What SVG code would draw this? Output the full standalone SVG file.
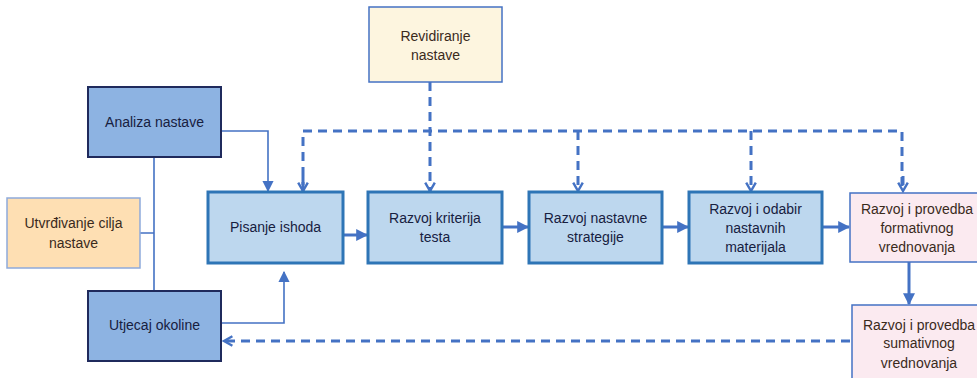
<svg xmlns="http://www.w3.org/2000/svg" width="977" height="378" viewBox="0 0 977 378">
<style>
text{font-family:"Liberation Sans","Open Sans",sans-serif;font-size:14px;text-anchor:middle}
.dark rect{fill:#8db3e2;stroke:#1f2a5c;stroke-width:2}
.dark text{fill:#17203f}
.light rect{fill:#bdd7ee;stroke:#2e75b6;stroke-width:3}
.light text{fill:#17203f}
.tan text{fill:#3a2a1c}
.c{fill:none;stroke:#4472c4}
.thin{stroke-width:1.6}
.thick{stroke-width:3}
.dash{stroke-width:3;stroke-dasharray:9 6}
</style>
<defs>
<marker id="af" viewBox="0 0 10 10" refX="9" refY="5" markerWidth="4" markerHeight="4" orient="auto" markerUnits="strokeWidth"><path d="M0,0 L10,5 L0,10 Z" fill="#4472c4"/></marker>
<marker id="as" viewBox="0 0 10 10" refX="9" refY="5" markerWidth="7" markerHeight="7" orient="auto" markerUnits="strokeWidth"><path d="M0,0 L10,5 L0,10 Z" fill="#4472c4"/></marker>
<marker id="ao" viewBox="0 0 10 10" refX="8" refY="5" markerWidth="4" markerHeight="4" orient="auto" markerUnits="strokeWidth"><path d="M1,1 L8,5 L1,9" fill="none" stroke="#4472c4" stroke-width="2"/></marker>
</defs>
<g id="connectors">
<path class="c thin" d="M154,157 V291 M140,233 H154"/>
<path class="c thin" d="M221,131 H268 V191" marker-end="url(#as)"/>
<path class="c thin" d="M221,323 H284 V272" marker-end="url(#as)"/>
<path class="c dash" d="M880,341 H224" marker-end="url(#ao)"/>
<path class="c dash" d="M303,191 V131 H902 V191"/>
<path class="c dash" d="M903,176 L903,191" marker-end="url(#ao)"/>
<path class="c dash" d="M303,176 L303,191" marker-end="url(#ao)"/>
<path class="c dash" d="M430,82 V191" marker-end="url(#ao)"/>
<path class="c dash" d="M578,131 V191" marker-end="url(#ao)"/>
<path class="c dash" d="M751,131 V191" marker-end="url(#ao)"/>
<path class="c thick" d="M343,235 H367" marker-end="url(#af)"/>
<path class="c thick" d="M502,227 H528" marker-end="url(#af)"/>
<path class="c thick" d="M662,227 H688" marker-end="url(#af)"/>
<path class="c thick" d="M822,227 H849" marker-end="url(#af)"/>
<path class="c thick" d="M909,262 V304" marker-end="url(#af)"/>
</g>
<g id="revidiranje" class="tan"><rect x="369" y="7" width="133" height="75" fill="#fdf5df" stroke="#4472c4" stroke-width="1.5"/><text x="435.5" y="41">Revidiranje</text><text x="435.5" y="60">nastave</text></g>
<g id="analiza" class="dark"><rect x="88" y="87" width="133" height="70"/><text x="154.5" y="127">Analiza nastave</text></g>
<g id="utvrdivanje" class="tan"><rect x="7" y="198" width="133" height="70" fill="#fedfb3" stroke="#8eaadb" stroke-width="1.5"/><text x="73.5" y="228">Utvrđivanje cilja</text><text x="73.5" y="248">nastave</text></g>
<g id="utjecaj" class="dark"><rect x="88" y="291" width="133" height="70"/><text x="154.5" y="330">Utjecaj okoline</text></g>
<g id="pisanje" class="light"><rect x="208" y="192" width="135" height="71"/><text x="275.5" y="232">Pisanje ishoda</text></g>
<g id="kriterij" class="light"><rect x="368" y="192" width="134" height="71"/><text x="435" y="223">Razvoj kriterija</text><text x="435" y="242">testa</text></g>
<g id="strategija" class="light"><rect x="529" y="192" width="133" height="71"/><text x="595.5" y="223">Razvoj nastavne</text><text x="595.5" y="242">strategije</text></g>
<g id="materijali" class="light"><rect x="689" y="192" width="133" height="71"/><text x="755.5" y="214">Razvoj i odabir</text><text x="755.5" y="233">nastavnih</text><text x="755.5" y="252">materijala</text></g>
<g id="formativno" class="tan"><rect x="850" y="193" width="134" height="69" fill="#fbeaf0" stroke="#4472c4" stroke-width="1.5"/><text x="917" y="214">Razvoj i provedba</text><text x="917" y="233">formativnog</text><text x="917" y="252">vrednovanja</text></g>
<g id="sumativno" class="tan"><rect x="852" y="305" width="134" height="80" fill="#fbeaf0" stroke="#4472c4" stroke-width="1.5"/><text x="919" y="330">Razvoj i provedba</text><text x="919" y="348">sumativnog</text><text x="919" y="368">vrednovanja</text></g>
</svg>
